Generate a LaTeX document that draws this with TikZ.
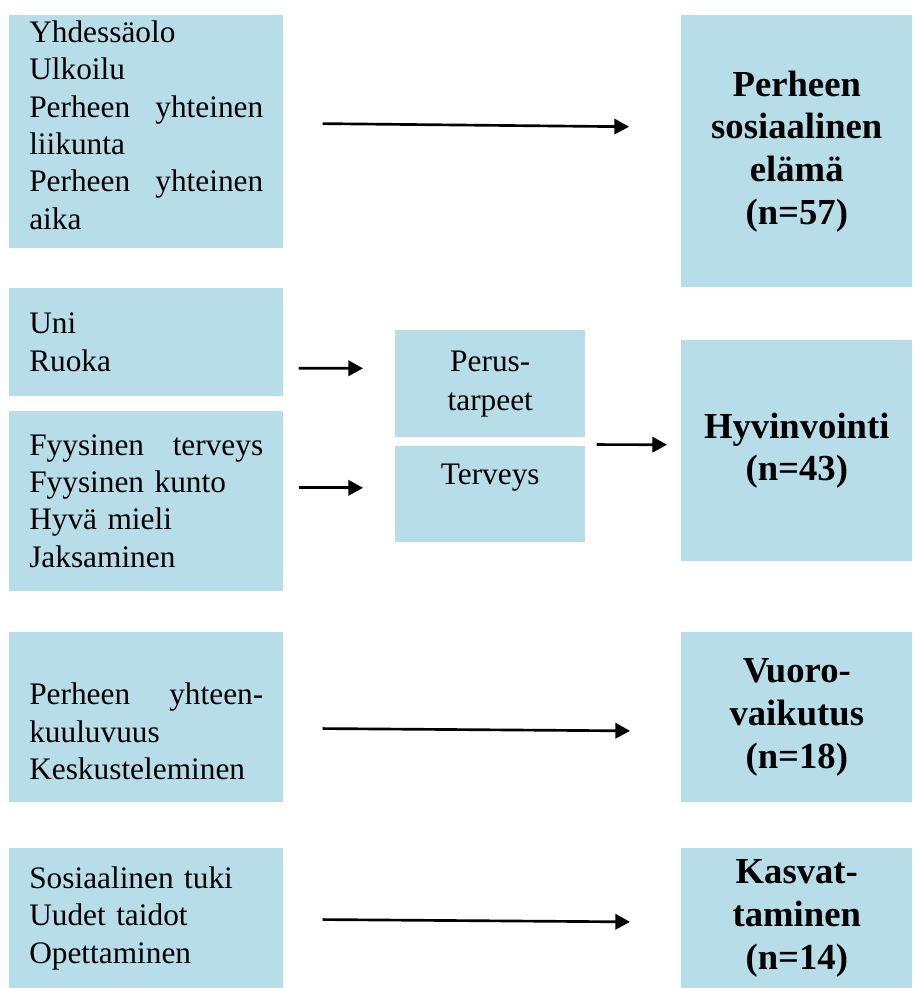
\documentclass[tikz,border=0pt]{standalone}
\usepackage{fontspec}
\setmainfont{Liberation Serif}
\usepackage{tikz}
\usetikzlibrary{positioning}
\usetikzlibrary{arrows.meta}
\usetikzlibrary{calc}
\definecolor{boxblue}{HTML}{B7DDE8}
\tikzset{item box/.style={fill=boxblue,anchor=north west,minimum width=205.5pt,text width=175.5pt,inner xsep=15pt,inner ysep=0pt,align=left,font=\fontsize{23.5}{28}\selectfont},
  head box/.style={fill=boxblue,anchor=north west,minimum width=173.25pt,inner sep=0pt,align=center,font=\fontsize{27.5}{32}\selectfont\bfseries},
  mid box/.style={fill=boxblue,anchor=north west,minimum width=142.5pt,inner sep=0pt,align=center,font=\fontsize{23.5}{29}\selectfont},
  arr/.style={-{Triangle[length=11pt,width=11.5pt]}},}

\begin{document}
\begin{tikzpicture}[x=0.75pt,y=-0.75pt]
    \useasboundingbox (0,0) rectangle (913,988);

    \node[item box,minimum height=174.75pt] (soc-in) at (9,15) {Yhdessäolo\\Ulkoilu\\Perheen \hfill yhteinen\\liikunta\\Perheen \hfill yhteinen\\aika\\[-26pt]\strut};
    \node[head box,minimum height=204pt] (soc) at (681,15) {Perheen\\sosiaalinen\\elämä\\(n=57)};

    \node[item box,minimum height=81pt] (basic-in) at (9,288) {Uni\\Ruoka};
    \node[item box,minimum height=135pt] (health-in) [below=10.5pt of basic-in] {Fyysinen \hfill terveys\\Fyysinen kunto\\Hyvä mieli\\Jaksaminen};
    \node[mid box,minimum height=80.25pt] (basic) at (395,330) {Perus-\\tarpeet};
    \node[mid box,minimum height=72pt] (health) [below=6pt of basic] {Terveys\\\mbox{}};
    \coordinate (both) at ($(basic.south east)!0.5!(health.north east)$);
    \node[head box,minimum height=165.75pt] (well) at (681,340) {Hyvinvointi\\(n=43)};

    \node[item box,minimum height=127.5pt] (inter-in) at (9,632) {\strut\\[-10pt]Perheen \hfill yhteen-\\kuuluvuus\\Keskusteleminen};
    \node[head box,minimum height=127.5pt] (inter) at (681,632) {Vuoro-\\vaikutus\\(n=18)};

    \node[item box,minimum height=105pt] (edu-in) at (9,848) {Sosiaalinen tuki\\Uudet taidot\\Opettaminen};
    \node[head box,minimum height=105pt] (edu) at (681,848) {Kasvat-\\taminen\\(n=14)};

    \path[draw,line width=2pt]
    ([yshift=6.4pt]soc-in.east) edge [arr,shorten <=29.25pt,shorten >=39pt] ([yshift=18pt]soc.west)
    ([yshift=-19.5pt]basic-in.east) edge [arr,shorten <=11.25pt,shorten >=24pt] ([yshift=11.6pt]basic.west)
    ([yshift=9.75pt]health-in.east) edge [arr,shorten <=11.25pt,shorten >=24pt] ([yshift=4.5pt]health.west)
    ([yshift=-2.25pt]both) edge [arr,shorten <=8.25pt,shorten >=10.5pt] ([yshift=4.5pt]well.west)
    ([yshift=-8.25pt]inter-in.east) edge [arr,shorten <=29.25pt,shorten >=38.25pt] ([yshift=-10.5pt]inter.west)
    ([yshift=-0.75pt]edu-in.east) edge [arr,shorten <=29.25pt,shorten >=38.25pt] ([yshift=-3pt]edu.west);
\end{tikzpicture}
\end{document}
